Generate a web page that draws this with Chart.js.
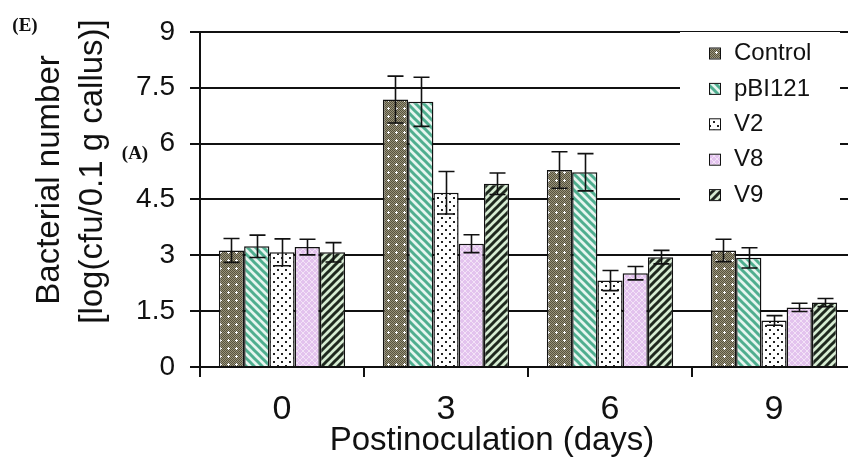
<!DOCTYPE html>
<html><head><meta charset="utf-8">
<script src="https://cdn.jsdelivr.net/npm/chart.js@4.4.1/dist/chart.umd.min.js"></script>
<style>html,body{margin:0;padding:0;background:#fff;overflow:hidden;width:848px;height:473px}canvas{display:block}</style>
</head><body>
<canvas id="c" width="880" height="473" style="width:880px;height:473px"></canvas>
<script>
const categories = ['0', '3', '6', '9'];
const seriesNames = ['Control', 'pBI121', 'V2', 'V8', 'V9'];
const control = [3.13, 7.18, 5.29, 3.13];
const controlErr = [0.32, 0.63, 0.49, 0.30];
const pbi121 = [3.24, 7.12, 5.23, 2.93];
const pbi121Err = [0.30, 0.66, 0.50, 0.27];
const v2 = [3.08, 4.68, 2.32, 1.25];
const v2Err = [0.36, 0.57, 0.27, 0.13];
const v8 = [3.22, 3.31, 2.52, 1.60];
const v8Err = [0.21, 0.24, 0.18, 0.11];
const v9 = [3.08, 4.92, 2.95, 1.73];
const v9Err = [0.26, 0.29, 0.18, 0.11];
const yTicks = [0, 1.5, 3, 4.5, 6, 7.5, 9];
const yTitleLines = ['Bacterial number', '[log(cfu/0.1 g callus)]'];
const xTitle = 'Postinoculation (days)';
const panelLabels = ['(E)', '(A)'];

const SANS = "'Liberation Sans', Arial, sans-serif";
const SERIF = "'Liberation Serif', 'Times New Roman', serif";

function makePattern(size, draw) {
  const c = document.createElement('canvas');
  c.width = c.height = size;
  const g = c.getContext('2d');
  draw(g, size);
  return c.getContext('2d').createPattern(c, 'repeat');
}
function stripes(g, s, bg, fg, w, dir) {
  g.fillStyle = bg; g.fillRect(0, 0, s, s);
  g.strokeStyle = fg; g.lineWidth = w; g.lineCap = 'square';
  for (const x0 of [-s, 0, s]) {
    g.beginPath();
    if (dir === '\\') { g.moveTo(x0, 0); g.lineTo(x0 + s, s); }
    else { g.moveTo(x0, s); g.lineTo(x0 + s, 0); }
    g.stroke();
  }
}
const patControl = makePattern(8, (g, s) => {
  g.fillStyle = '#9a947a'; g.fillRect(0, 0, s, s);
  g.fillStyle = '#55513e';
  for (let y = 0; y < s; y++) for (let x = 0; x < s; x++) if ((x + y) % 2 === 0) g.fillRect(x, y, 1, 1);
  g.fillStyle = '#ffffff';
  g.fillRect(4, 3, 1, 3); g.fillRect(3, 4, 3, 1);
});
const patPbi = makePattern(8, (g, s) => stripes(g, s, '#e6f5ef', '#4fae8f', 3, '\\'));
const patV2 = makePattern(8, (g, s) => {
  g.fillStyle = '#ffffff'; g.fillRect(0, 0, s, s);
  g.fillStyle = '#222';
  g.fillRect(1, 1, 2, 2); g.fillRect(5, 5, 2, 2);
});
const patV8 = makePattern(6, (g, s) => {
  g.fillStyle = '#e3c3ee'; g.fillRect(0, 0, s, s);
  g.strokeStyle = '#f3e3f7'; g.lineWidth = 1;
  g.beginPath(); g.moveTo(0, 0); g.lineTo(s, s); g.moveTo(0, s); g.lineTo(s, 0); g.stroke();
});
const patV9 = makePattern(8, (g, s) => stripes(g, s, '#d6ecd2', '#1e281e', 3, '/'));

const seriesData = [control, pbi121, v2, v8, v9];
const seriesErr = [controlErr, pbi121Err, v2Err, v8Err, v9Err];
const seriesFill = [patControl, patPbi, patV2, patV8, patV9];

const datasets = seriesNames.map((name, i) => ({
  label: name,
  data: seriesData[i],
  errors: seriesErr[i],
  backgroundColor: seriesFill[i],
  borderColor: '#111',
  borderWidth: 1.5,
  categoryPercentage: 0.77,
  barPercentage: 1.0
}));

const errorBars = {
  id: 'errorBars',
  afterDatasetsDraw(chart) {
    const { ctx } = chart; const y = chart.scales.y;
    ctx.save(); ctx.strokeStyle = '#111'; ctx.lineWidth = 1.6;
    chart.data.datasets.forEach((ds, di) => {
      chart.getDatasetMeta(di).data.forEach((bar, i) => {
        const v = ds.data[i], e = ds.errors[i];
        const x = Math.round(bar.x) + 0.5;
        const yt = y.getPixelForValue(v + e), yb = y.getPixelForValue(v - e);
        ctx.beginPath();
        ctx.moveTo(x, yt); ctx.lineTo(x, yb);
        ctx.moveTo(x - 8, yt); ctx.lineTo(x + 8, yt);
        ctx.moveTo(x - 8, yb); ctx.lineTo(x + 8, yb);
        ctx.stroke();
      });
    });
    ctx.restore();
  }
};

const decorations = {
  id: 'decorations',
  afterDraw(chart) {
    const { ctx } = chart;
    ctx.save();
    // legend
    ctx.fillStyle = '#fff';
    ctx.fillRect(680, 32, 160, 186);
    ctx.font = '24px ' + SANS;
    ctx.textBaseline = 'middle'; ctx.textAlign = 'left';
    chart.data.datasets.forEach((ds, i) => {
      const cy = 53.5 + i * 35.4;
      ctx.fillStyle = ds.backgroundColor;
      ctx.fillRect(710, cy - 5, 10, 10);
      ctx.strokeStyle = '#111'; ctx.lineWidth = 1;
      ctx.strokeRect(709.5, cy - 5.5, 11, 11);
      ctx.fillStyle = '#111';
      ctx.fillText(ds.label, 734, cy);
    });
    // y-axis title
    ctx.font = '33px ' + SANS;
    ctx.fillStyle = '#111';
    ctx.textAlign = 'center'; ctx.textBaseline = 'alphabetic';
    const lines = [{ t: yTitleLines[0], x: 59, cy: 180 }, { t: yTitleLines[1], x: 102, cy: 171.5 }];
    lines.forEach(l => {
      ctx.save(); ctx.translate(l.x, l.cy); ctx.rotate(-Math.PI / 2);
      ctx.fillText(l.t, 0, 0); ctx.restore();
    });
    // x-axis title
    ctx.textBaseline = 'middle';
    ctx.fillText(xTitle, 492, 441);
    // panel labels
    ctx.font = 'bold 19px ' + SERIF;
    ctx.fillText(panelLabels[0], 25, 26);
    ctx.font = 'bold 19px ' + SERIF;
    ctx.fillText(panelLabels[1], 135, 154);
    ctx.restore();
  }
};

new Chart(document.getElementById('c'), {
  type: 'bar',
  data: { labels: categories, datasets },
  options: {
    responsive: false, animation: false, devicePixelRatio: 1,
    layout: { padding: { left: 0, right: 24, top: 23, bottom: 0 } },
    plugins: { legend: { display: false }, tooltip: { enabled: false } },
    scales: {
      x: {
        offset: true,
        grid: { display: true, drawOnChartArea: false, offset: true, tickLength: 10, color: '#111', lineWidth: 2 },
        border: { display: true, color: '#111', width: 2 },
        ticks: { font: { family: SANS, size: 34 }, color: '#111', padding: 12 },
        title: { display: false, text: xTitle },
        afterFit(s) { s.height = 106; }
      },
      y: {
        min: 0, max: 9,
        afterBuildTicks(s) { s.ticks = yTicks.map(v => ({ value: v })); },
        grid: { color: '#111', lineWidth: 2, tickLength: 10 },
        border: { display: true, color: '#111', width: 2 },
        ticks: { font: { family: SANS, size: 28 }, color: '#111', padding: 15, callback: v => String(v) },
        afterFit(s) { s.width = 200; }
      }
    }
  },
  plugins: [errorBars, decorations]
});
</script>
</body></html>
